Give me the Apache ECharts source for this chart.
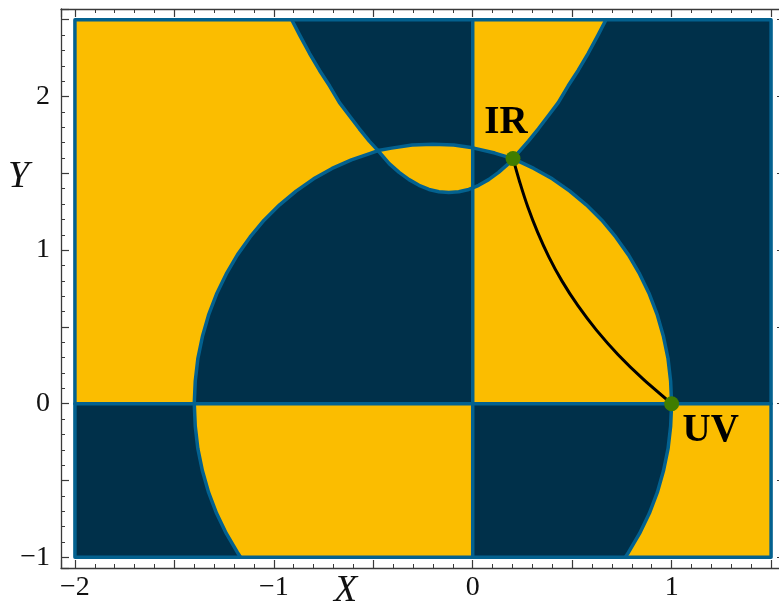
<!DOCTYPE html>
<html>
<head>
<meta charset="utf-8">
<script src="https://cdn.jsdelivr.net/npm/echarts@6/dist/echarts.min.js"></script>
<style>
  html, body { margin: 0; padding: 0; background: #fff; }
  #chart { width: 779px; height: 603px; }
</style>
</head>
<body>
<div id="chart"></div>
<script>
// boundary of the oval, split at its crossings with the axes and the parabola
var ovalUpperRight = [[1, 0], [0.995, 0.147], [0.982, 0.293], [0.959, 0.437], [0.928, 0.578], [0.888, 0.714], [0.839, 0.845],
  [0.783, 0.969], [0.719, 1.086], [0.649, 1.195], [0.571, 1.295], [0.488, 1.384], [0.4, 1.464], [0.307, 1.532], [0.2025, 1.596]]
var ovalTopRight = [[0.2025, 1.596], [0.111, 1.632], [0, 1.666]]
var ovalTopLeft = [[0, 1.666], [-0.095, 1.684], [-0.2, 1.69], [-0.305, 1.684], [-0.408, 1.664], [-0.476, 1.648]]
var ovalLeft = [[-0.476, 1.648], [-0.511, 1.632], [-0.61, 1.588], [-0.707, 1.532], [-0.8, 1.464], [-0.888, 1.384], [-0.971, 1.295],
  [-1.049, 1.195], [-1.119, 1.086], [-1.183, 0.969], [-1.239, 0.845], [-1.288, 0.714], [-1.328, 0.578], [-1.359, 0.437],
  [-1.382, 0.293], [-1.395, 0.147], [-1.4, 0]]
var ovalLowerLeft = [[-1.4, 0], [-1.395, -0.147], [-1.382, -0.293], [-1.359, -0.437], [-1.328, -0.578], [-1.288, -0.714],
  [-1.239, -0.845], [-1.183, -0.969], [-1.167, -1]]
var ovalLowerRight = [[0.767, -1], [0.783, -0.969], [0.839, -0.845], [0.888, -0.714], [0.928, -0.578], [0.959, -0.437],
  [0.982, -0.293], [0.995, -0.147], [1, 0]]

// the parabola-like curve, split the same way
var paraLeftUpper = [[-0.91, 2.5], [-0.87, 2.4], [-0.82, 2.28], [-0.77, 2.17], [-0.72, 2.07], [-0.67, 1.96], [-0.62, 1.875],
  [-0.57, 1.79], [-0.52, 1.71], [-0.476, 1.648]]
var paraBottom = [[-0.476, 1.648], [-0.42, 1.563], [-0.37, 1.506], [-0.32, 1.459], [-0.27, 1.422], [-0.22, 1.395],
  [-0.17, 1.38], [-0.12, 1.375], [-0.07, 1.38], [-0.02, 1.395], [0, 1.405]]
var paraRightLower = [[0, 1.405], [0.03, 1.422], [0.08, 1.459], [0.13, 1.506], [0.18, 1.563], [0.2025, 1.596]]
var paraRightUpper = [[0.2025, 1.596], [0.28, 1.71], [0.33, 1.79], [0.38, 1.875], [0.43, 1.96], [0.48, 2.07], [0.53, 2.17],
  [0.58, 2.28], [0.63, 2.4], [0.67, 2.5]]

// black path from IR to UV
var transit = [[0.2025, 1.596], [0.238, 1.436], [0.278, 1.277], [0.326, 1.117], [0.382, 0.958], [0.449, 0.798],
  [0.529, 0.638], [0.622, 0.479], [0.731, 0.319], [0.857, 0.16], [1, 0]]
var pointNames = ['IR', 'UV']
var pointXY = [[0.2025, 1.596], [1, 0]]

var box = [[-2, -1], [1.5, -1], [1.5, 2.5], [-2, 2.5], [-2, -1]]
var xTickLabels = [-2, -1, 0, 1]
var yTickLabels = [-1, 0, 1, 2]

var DARK = '#00304a'
var YELLOW = '#fbbd00'
var EDGE = '#03618f'
var AXIS = '#3a3a3a'

function rev(a) { return a.slice().reverse() }

var darkRegions = [
  [[-0.91, 2.5], [0, 2.5]].concat(ovalTopLeft, rev(paraLeftUpper)),
  [[-1.4, 0], [0, 0]].concat(rev(paraBottom), ovalLeft),
  paraRightUpper.concat([[1.5, 2.5], [1.5, 0]], ovalUpperRight),
  paraRightLower.concat(ovalTopRight),
  [[-2, 0]].concat(ovalLowerLeft, [[-2, -1]]),
  [[0, 0]].concat(rev(ovalLowerRight), [[0, -1]])
]
var regions = [box.slice(0, 4)].concat(darkRegions)

var edges = [ovalUpperRight, ovalTopRight, ovalTopLeft, ovalLeft, ovalLowerLeft, ovalLowerRight,
  paraLeftUpper, paraBottom, paraRightLower, paraRightUpper,
  [[0, -1], [0, 2.5]], [[-2, 0], [1.5, 0]], box]

function tickFmt(list) {
  return function (v) {
    for (var i = 0; i < list.length; i++) {
      if (Math.abs(v - list[i]) < 1e-6) return list[i] < 0 ? '\u2212' + (-list[i]) : String(list[i])
    }
    return ''
  }
}

function axis(pos, labels, lo, hi) {
  return {
    type: 'value',
    position: pos,
    min: lo,
    max: hi,
    minInterval: 0.5,
    maxInterval: 0.5,
    splitNumber: 7,
    axisLine: { onZero: false, lineStyle: { color: AXIS, width: 1.3 } },
    axisTick: { show: true, inside: true, length: 8, lineStyle: { color: AXIS, width: 1.2 } },
    minorTick: { show: true, splitNumber: 5, length: 4, lineStyle: { color: AXIS, width: 1 } },
    splitLine: { show: false },
    axisLabel: labels ? {
      show: true,
      formatter: tickFmt(labels),
      fontFamily: 'Liberation Serif',
      fontSize: 28,
      color: '#111',
      margin: pos === 'bottom' ? 6 : 11
    } : { show: false }
  }
}

var series = [{
  type: 'custom',
  coordinateSystem: 'cartesian2d',
  silent: true,
  data: regions.map(function (r, i) { return [i, 0] }),
  renderItem: function (params, api) {
    var pts = regions[params.dataIndex].map(function (p) { return api.coord(p) })
    return {
      type: 'polygon',
      shape: { points: pts },
      style: { fill: params.dataIndex === 0 ? YELLOW : DARK, stroke: null }
    }
  },
  z: 1
}]

edges.forEach(function (e) {
  series.push({
    type: 'line',
    data: e,
    showSymbol: false,
    silent: true,
    lineStyle: { color: EDGE, width: 3.5, cap: 'round', join: 'round' },
    z: 2
  })
})

series.push({
  type: 'line',
  data: transit,
  smooth: 0.2,
  showSymbol: false,
  silent: true,
  lineStyle: { color: '#000', width: 3 },
  z: 3
})

series.push({
  type: 'scatter',
  symbolSize: 15,
  itemStyle: { color: '#3f7d00', opacity: 1 },
  z: 4,
  data: pointXY.map(function (p, i) {
    return {
      value: p,
      name: pointNames[i],
      label: {
        show: true,
        formatter: pointNames[i],
        position: 'inside',
        offset: i === 0 ? [-7, -36] : [39, 27],
        fontFamily: 'Liberation Serif',
        fontWeight: 'bold',
        fontSize: 39,
        color: '#000',
        opacity: 1,
        textBorderWidth: 0
      }
    }
  })
})

var chart = echarts.init(document.getElementById('chart'), null, { renderer: 'canvas' })
chart.setOption({
  animation: false,
  backgroundColor: '#fff',
  grid: { left: 61, top: 9, width: 724, height: 559, outerBoundsMode: 'none', containLabel: false },
  xAxis: [axis('bottom', xTickLabels, -2.07, 1.57), axis('top', null, -2.07, 1.57)],
  yAxis: [axis('left', yTickLabels, -1.07, 2.57), axis('right', null, -1.07, 2.57)],
  graphic: [
    { type: 'text', left: 334, top: 572, style: { text: 'X', font: 'italic 38px "Liberation Serif"', fill: '#111' } },
    { type: 'text', left: 8, top: 158, style: { text: 'Y', font: 'italic 38px "Liberation Serif"', fill: '#111' } }
  ],
  series: series
})
</script>
</body>
</html>
